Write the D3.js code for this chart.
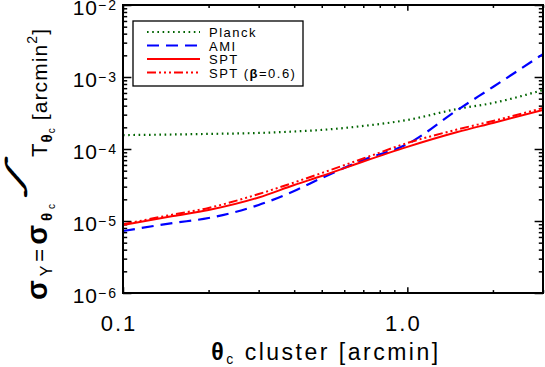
<!DOCTYPE html>
<html>
<head>
<meta charset="utf-8">
<script src="https://cdn.jsdelivr.net/npm/d3@7"></script>
<style>
  body { margin: 0; background: #fff; }
  svg { display: block; font-family: "Liberation Sans", Arial, sans-serif; }
</style>
</head>
<body>
<svg id="chart" width="545" height="367"></svg>
<script>
// values
const theta = [0.1, 0.15, 0.2, 0.3, 0.4, 0.5, 0.7, 1.0, 1.5, 2.0, 3.0];
const planck = [1.56e-4, 1.59e-4, 1.62e-4, 1.67e-4, 1.75e-4, 1.84e-4, 2.09e-4, 2.53e-4, 3.6e-4, 4.36e-4, 6.6e-4];
const ami = [7.26e-6, 9.38e-6, 1.1e-5, 1.67e-5, 2.61e-5, 3.96e-5, 7.03e-5, 1.17e-4, 3.48e-4, 7.26e-4, 2.08e-3];
const spt = [8.8e-6, 1.17e-5, 1.42e-5, 2.12e-5, 3.16e-5, 4.21e-5, 6.7e-5, 1.07e-4, 1.72e-4, 2.3e-4, 3.48e-4];
const sptBeta = [9.0e-6, 1.23e-5, 1.52e-5, 2.37e-5, 3.43e-5, 4.64e-5, 7.38e-5, 1.21e-4, 1.87e-4, 2.45e-4, 3.71e-4];

const xMajor = [0.1, 1.0];
const xMinor = [0.2, 0.3, 0.4, 0.5, 0.6, 0.7, 0.8, 0.9, 2, 3];
const xLabels = ["0.1", "1.0"];
const yMajor = [1e-6, 1e-5, 1e-4, 1e-3, 1e-2];
const yExp = ["\u22126", "\u22125", "\u22124", "\u22123", "\u22122"];
const legendNames = ["Planck", "AMI", "SPT", "SPT"];

const svg = d3.select("#chart");

const plotLeft = 123, plotRight = 543, plotTop = 5, plotBottom = 293;

const x = d3.scaleLog().domain([0.1, 3]).range([plotLeft, plotRight]);
const y = d3.scaleLog().domain([1e-6, 1e-2]).range([plotBottom, plotTop]);

const yMinor = [];
yMajor.slice(0, -1).forEach((d) => {
  for (let k = 2; k <= 9; k++) yMinor.push(d * k);
});

const styleTicks = (g) => {
  g.select(".domain").remove();
  g.selectAll(".tick line").attr("stroke", "#000").attr("stroke-width", 1.5);
};

// y axes, ticks pointing inwards
svg.append("g").attr("transform", `translate(${plotLeft},0)`)
  .call(d3.axisLeft(y).tickValues(yMajor).tickSize(-8.4).tickFormat(""))
  .call(styleTicks);
svg.append("g").attr("transform", `translate(${plotLeft},0)`)
  .call(d3.axisLeft(y).tickValues(yMinor).tickSize(-4.2).tickFormat(""))
  .call(styleTicks);
svg.append("g").attr("transform", `translate(${plotRight},0)`)
  .call(d3.axisRight(y).tickValues(yMajor).tickSize(-8.4).tickFormat(""))
  .call(styleTicks);
svg.append("g").attr("transform", `translate(${plotRight},0)`)
  .call(d3.axisRight(y).tickValues(yMinor).tickSize(-4.2).tickFormat(""))
  .call(styleTicks);

// x axes
svg.append("g").attr("transform", `translate(0,${plotBottom})`)
  .call(d3.axisBottom(x).tickValues(xMajor).tickSize(-5.8).tickFormat(""))
  .call(styleTicks);
svg.append("g").attr("transform", `translate(0,${plotBottom})`)
  .call(d3.axisBottom(x).tickValues(xMinor).tickSize(-2.9).tickFormat(""))
  .call(styleTicks);
svg.append("g").attr("transform", `translate(0,${plotTop})`)
  .call(d3.axisTop(x).tickValues(xMajor).tickSize(-5.8).tickFormat(""))
  .call(styleTicks);
svg.append("g").attr("transform", `translate(0,${plotTop})`)
  .call(d3.axisTop(x).tickValues(xMinor).tickSize(-2.9).tickFormat(""))
  .call(styleTicks);

// y tick labels 10^n
yMajor.forEach((d, i) => {
  const t = svg.append("text")
    .attr("x", 118)
    .attr("y", y(d) + 10)
    .attr("text-anchor", "end")
    .attr("font-size", 21)
    .attr("letter-spacing", 1);
  t.append("tspan").text("10");
  t.append("tspan").attr("dy", -5).attr("font-size", 14).attr("letter-spacing", 2).text(yExp[i]);
});

// x tick labels
xMajor.forEach((d, i) => {
  svg.append("text")
    .attr("x", x(d) - 4)
    .attr("y", 331)
    .attr("text-anchor", "middle")
    .attr("font-size", 22)
    .attr("letter-spacing", 2)
    .text(xLabels[i]);
});

// curves
const line = d3.line()
  .x((d) => x(d[0]))
  .y((d) => y(d[1]))
  .curve(d3.curveMonotoneX);

const series = [
  { vals: planck, color: "#006400", dash: "1.6,3.6", width: 2.2 },
  { vals: ami, color: "#0000ff", dash: "12,7", width: 2.2 },
  { vals: spt, color: "#ff0000", dash: null, width: 2 },
  { vals: sptBeta, color: "#ff0000", dash: "9,3,2,3,2,3,2,3", width: 2 },
];

const plot = svg.append("g");
plot.append("clipPath").attr("id", "clip")
  .append("rect").attr("x", plotLeft).attr("y", plotTop)
  .attr("width", plotRight - plotLeft).attr("height", plotBottom - plotTop);

series.forEach((s) => {
  plot.append("path")
    .attr("d", line(theta.map((t, i) => [t, s.vals[i]])))
    .attr("fill", "none")
    .attr("stroke", s.color)
    .attr("stroke-width", s.width)
    .attr("stroke-dasharray", s.dash)
    .attr("clip-path", "url(#clip)");
});

// frame
svg.append("rect")
  .attr("x", plotLeft).attr("y", plotTop)
  .attr("width", plotRight - plotLeft).attr("height", plotBottom - plotTop)
  .attr("fill", "none").attr("stroke", "#000").attr("stroke-width", 2);

// legend
const legend = svg.append("g");
legend.append("rect")
  .attr("x", 133).attr("y", 21).attr("width", 170).attr("height", 65)
  .attr("fill", "#fff").attr("stroke", "#000").attr("stroke-width", 1.3);

series.forEach((s, i) => {
  const ly = 32 + i * 13.5;
  legend.append("line")
    .attr("x1", 147).attr("x2", 200).attr("y1", ly).attr("y2", ly)
    .attr("stroke", s.color).attr("stroke-width", s.width)
    .attr("stroke-dasharray", s.dash);
  const t = legend.append("text")
    .attr("x", 209).attr("y", ly + 5)
    .attr("font-size", 13)
    .attr("letter-spacing", 1.5)
    .text(legendNames[i]);
  if (i === 3) {
    t.append("tspan").text(" (");
    t.append("tspan").attr("font-weight", "bold").text("\u03b2");
    t.append("tspan").text("=0.6)");
  }
});

// y title, in three pieces: sigma part, integral sign, T part
const ytA = svg.append("text")
  .attr("transform", "translate(47,300) rotate(-90)")
  .attr("textLength", 96)
  .attr("lengthAdjust", "spacing")
  .attr("font-size", 22);
ytA.append("tspan").attr("font-weight", "bold").attr("font-size", 29).text("\u03c3");
ytA.append("tspan").attr("font-size", 16).attr("dy", 5).text("Y");
ytA.append("tspan").attr("dy", -5).text("=");
ytA.append("tspan").attr("font-weight", "bold").attr("font-size", 29).text("\u03c3");
ytA.append("tspan").attr("font-weight", "bold").attr("font-size", 15).attr("dy", 5).text("\u03b8");
ytA.append("tspan").attr("font-size", 10).attr("dy", 3).text("c");

svg.append("text")
  .attr("transform", "translate(22,182) rotate(-90) skewX(-45) scale(1,0.55)")
  .attr("text-anchor", "middle")
  .attr("font-family", "DejaVu Sans")
  .attr("font-weight", "bold")
  .attr("font-size", 42)
  .text("\u222b");

const ytC = svg.append("text")
  .attr("transform", "translate(47,157) rotate(-90)")
  .attr("textLength", 128)
  .attr("lengthAdjust", "spacing")
  .attr("font-size", 21);
ytC.append("tspan").attr("font-size", 22).text("T");
ytC.append("tspan").attr("font-weight", "bold").attr("font-size", 15).attr("dy", 5).text("\u03b8");
ytC.append("tspan").attr("font-size", 10).attr("dy", 3).text("c");
ytC.append("tspan").attr("dy", -8).text(" [arcmin");
ytC.append("tspan").attr("font-size", 14).attr("dy", -10).text("2");
ytC.append("tspan").attr("dy", 10).text("]");

// x title
const xt = svg.append("text")
  .attr("x", 326).attr("y", 360)
  .attr("text-anchor", "middle")
  .attr("font-size", 23)
  .attr("letter-spacing", 2.5);
xt.append("tspan").attr("font-weight", "bold").text("\u03b8");
xt.append("tspan").attr("font-size", 14).attr("dy", 4).text("c");
xt.append("tspan").attr("dy", -4).text(" cluster [arcmin]");
</script>
</body>
</html>
